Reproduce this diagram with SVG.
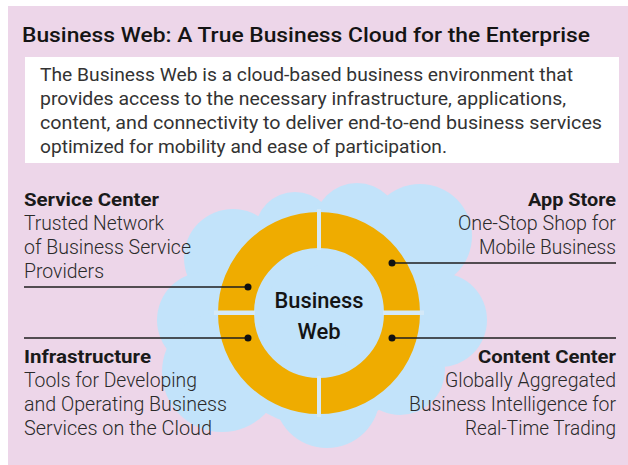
<svg xmlns="http://www.w3.org/2000/svg" width="628" height="465" viewBox="0 0 628 465">
<style>
.title{font-family:Roboto,"Liberation Sans",sans-serif;font-size:20px;font-weight:500;fill:#141414}
.desc{font-family:Roboto,"Liberation Sans",sans-serif;font-size:18px;fill:#333}
.head{font-family:Roboto,"Liberation Sans",sans-serif;font-size:19px;font-weight:700;fill:#1a1a1a}
.body{font-family:Roboto,"Liberation Sans",sans-serif;font-size:19.5px;font-weight:300;fill:#2a2a2a}
.center{font-family:Roboto,"Liberation Sans",sans-serif;font-size:22px;font-weight:500;fill:#141414;text-anchor:middle}
.cloud{fill:#C2E3FA}
.gap{fill:#D4E9F8}
.lead{stroke:#1e1e1e;stroke-width:1.5;fill:none}
.dot{fill:#111}
.r{text-anchor:end}
</style>
<rect x="8" y="6" width="620" height="459" fill="#EDD6E9"/>
<g id="header">
<text class="title" x="22" y="42" textLength="568" lengthAdjust="spacingAndGlyphs">Business Web: A True Business Cloud for the Enterprise</text>
<rect x="25" y="57" width="594" height="106" fill="#FFFFFF"/>
<text class="desc" x="40" y="81" textLength="533" lengthAdjust="spacingAndGlyphs">The Business Web is a cloud-based business environment that</text>
<text class="desc" x="40" y="105" textLength="526" lengthAdjust="spacingAndGlyphs">provides access to the necessary infrastructure, applications,</text>
<text class="desc" x="40" y="129" textLength="562" lengthAdjust="spacingAndGlyphs">content, and connectivity to deliver end-to-end business services</text>
<text class="desc" x="40" y="153" textLength="407" lengthAdjust="spacingAndGlyphs">optimized for mobility and ease of participation.</text>
</g>
<g id="cloud" class="cloud">
<circle cx="320" cy="315" r="112"/>
<circle cx="233" cy="258" r="49"/>
<circle cx="205" cy="320" r="48"/>
<circle cx="222" cy="372" r="60"/>
<circle cx="327" cy="395" r="53"/>
<circle cx="400" cy="370" r="45"/>
<circle cx="440" cy="320" r="47"/>
<circle cx="420" cy="236" r="52"/>
<circle cx="357" cy="226" r="43"/>
<circle cx="295" cy="232" r="40"/>
</g>
<g id="business-web">
<circle cx="319" cy="313" r="83" fill="none" stroke="#EFAC00" stroke-width="36"/>
<rect class="gap" x="317" y="209" width="4" height="41"/>
<rect class="gap" x="317" y="376" width="4" height="41"/>
<rect class="gap" x="214" y="310.5" width="41" height="4.5"/>
<rect class="gap" x="383" y="310.5" width="41" height="4.5"/>
<text class="center" x="319" y="308" textLength="89" lengthAdjust="spacingAndGlyphs">Business</text>
<text class="center" x="319" y="339">Web</text>
</g>
<g id="connectors">
<line class="lead" x1="24" y1="287" x2="248" y2="287"/>
<circle class="dot" cx="248" cy="287" r="3.5"/>
<line class="lead" x1="24" y1="338" x2="248" y2="338"/>
<circle class="dot" cx="248" cy="338" r="3.5"/>
<line class="lead" x1="392" y1="263" x2="616" y2="263" stroke="#3a3a3a"/>
<circle class="dot" cx="392" cy="263" r="3.5"/>
<line class="lead" x1="392" y1="338" x2="616" y2="338"/>
<circle class="dot" cx="392" cy="338" r="3.5"/>
</g>
<g id="service-center">
<text class="head" x="24" y="206" textLength="135" lengthAdjust="spacingAndGlyphs">Service Center</text>
<text class="body" x="24" y="230" textLength="140" lengthAdjust="spacingAndGlyphs">Trusted Network</text>
<text class="body" x="24" y="254" textLength="167" lengthAdjust="spacingAndGlyphs">of Business Service</text>
<text class="body" x="24" y="278" textLength="80" lengthAdjust="spacingAndGlyphs">Providers</text>
</g>
<g id="infrastructure">
<text class="head" x="24" y="363" textLength="127" lengthAdjust="spacingAndGlyphs">Infrastructure</text>
<text class="body" x="24" y="387" textLength="173" lengthAdjust="spacingAndGlyphs">Tools for Developing</text>
<text class="body" x="24" y="411" textLength="203" lengthAdjust="spacingAndGlyphs">and Operating Business</text>
<text class="body" x="24" y="435" textLength="188" lengthAdjust="spacingAndGlyphs">Services on the Cloud</text>
</g>
<g id="app-store">
<text class="head r" x="616" y="206" textLength="88" lengthAdjust="spacingAndGlyphs">App Store</text>
<text class="body r" x="616" y="230" textLength="158" lengthAdjust="spacingAndGlyphs">One-Stop Shop for</text>
<text class="body r" x="616" y="254" textLength="137" lengthAdjust="spacingAndGlyphs">Mobile Business</text>
</g>
<g id="content-center">
<text class="head r" x="616" y="363" textLength="138" lengthAdjust="spacingAndGlyphs">Content Center</text>
<text class="body r" x="616" y="387" textLength="171" lengthAdjust="spacingAndGlyphs">Globally Aggregated</text>
<text class="body r" x="616" y="411" textLength="207" lengthAdjust="spacingAndGlyphs">Business Intelligence for</text>
<text class="body r" x="616" y="435" textLength="151" lengthAdjust="spacingAndGlyphs">Real-Time Trading</text>
</g>
</svg>
